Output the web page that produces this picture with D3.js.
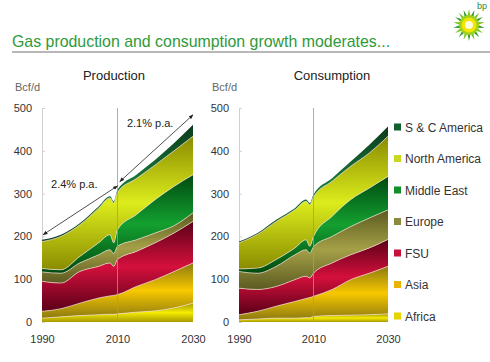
<!DOCTYPE html>
<html>

<head>
  <meta charset="utf-8" />
  <title>Gas production and consumption</title>
  <style>
    body {
      margin: 0;
      background: #fff;
      font-family: "Liberation Sans", Arial, sans-serif;
    }

    .axis text {
      font-size: 11px;
      fill: #333;
    }

    .legend text {
      font-size: 12px;
      fill: #333;
    }
  </style>
</head>

<body>
  <svg></svg>

  <script src="https://d3js.org/d3.v7.min.js"></script>
  <script>
    var width = 490,
      height = 362;

    // data, Bcf/d
    var years = [1990, 1995, 2000, 2005, 2008, 2009, 2010, 2015, 2020, 2025, 2030];
    var regions = ["Africa", "Asia", "FSU", "Europe", "Middle East", "North America", "S & C America"];
    var yTicks = [0, 100, 200, 300, 400, 500];
    var xTicks = [1990, 2010, 2030];

    var prodAfrica = [9, 12, 15, 17, 18, 18, 19, 23, 26, 33, 44];
    var prodAsia = [16, 19, 29, 39, 43, 44, 45, 60, 73, 85, 94];
    var prodFSU = [70, 60, 74, 74, 77, 68, 82, 82, 86, 90, 97];
    var prodEurope = [22, 23, 20, 27, 31, 30, 31, 27, 23, 17, 20];
    var prodMidEast = [8, 8, 15, 28, 35, 25, 39, 59, 78, 92, 89];
    var prodNAmerica = [63, 78, 74, 81, 86, 93, 87, 84, 81, 83, 90];
    var prodSCAmerica = [4, 4, 4, 4, 4, 4, 6, 9, 12, 18, 27];

    var consAfrica = [5, 7, 9, 9, 10, 10, 13, 15, 16, 17, 19];
    var consAsia = [12, 18, 28, 39, 45, 47, 47, 61, 83, 97, 111];
    var consFSU = [62, 51, 46, 51, 52, 46, 54, 62, 58, 59, 63];
    var consEurope = [39, 38, 47, 58, 62, 58, 62, 62, 66, 70, 69];
    var consMidEast = [6, 12, 16, 16, 23, 16, 24, 47, 63, 70, 78];
    var consNAmerica = [61, 79, 89, 89, 90, 97, 92, 82, 78, 82, 94];
    var consSCAmerica = [3, 3, 4, 4, 4, 4, 6, 7, 11, 19, 23];

    // dark / bright shade for each region
    var darkCol = ["#a89a00", "#8c7a10", "#5a0018", "#5c5a20", "#004a10", "#8a8c00", "#0c3a1a"];
    var brightCol = ["#f4ec00", "#f8c800", "#d4103c", "#a4a048", "#14a030", "#dcec1c", "#1a7a3a"];
    var legendCol = ["#e4d400", "#e8b400", "#c8103c", "#8c8a3c", "#138f2a", "#c8d820", "#0f5f2f"];

    var svg = d3.select("svg")
      .attr("width", width)
      .attr("height", height);

    var defs = svg.append("defs");
    regions.forEach(function (r, i) {
      var g = defs.append("linearGradient")
        .attr("id", "grad" + i)
        .attr("x1", 0).attr("y1", 0).attr("x2", 0).attr("y2", 1);
      g.append("stop").attr("offset", "0%").attr("stop-color", darkCol[i]);
      g.append("stop").attr("offset", "50%").attr("stop-color", brightCol[i]);
      g.append("stop").attr("offset", "100%").attr("stop-color", darkCol[i]);
    });

    // header
    svg.append("text")
      .attr("x", 12).attr("y", 47)
      .attr("font-size", 15.9)
      .attr("fill", "#2f9a3a")
      .text("Gas production and consumption growth moderates...");
    svg.append("line")
      .attr("x1", 12).attr("x2", 490)
      .attr("y1", 52).attr("y2", 52)
      .attr("stroke", "#a0a0a0").attr("stroke-width", 1.5);

    // bp helios logo
    var logo = svg.append("g").attr("transform", "translate(469,25)");
    for (var k = 0; k < 18; k++) {
      logo.append("path")
        .attr("d", "M-3.2,0 L0,-16 L3.2,0 Z")
        .attr("fill", k % 2 ? "#2e9b2e" : "#7cc21e")
        .attr("transform", "rotate(" + (k * 20) + ")");
    }
    logo.append("circle").attr("r", 10).attr("fill", "#9fd21c");
    logo.append("circle").attr("r", 7.5).attr("fill", "#f2e600");
    logo.append("circle").attr("r", 4).attr("fill", "#fffde0");
    svg.append("text")
      .attr("x", 477).attr("y", 9)
      .attr("font-size", 9).attr("fill", "#2e8b2e")
      .text("bp");

    var y = d3.scaleLinear().domain([0, 500]).range([322, 108]);

    function buildRows(cols) {
      return years.map(function (yr, i) {
        var row = { year: yr };
        regions.forEach(function (r, j) { row[r] = cols[j][i]; });
        return row;
      });
    }

    function drawPanel(x, rows, title, titleX) {
      var stacked = d3.stack().keys(regions)(rows);

      var area = d3.area()
        .curve(d3.curveMonotoneX)
        .x(function (d) { return x(d.data.year); })
        .y0(function (d) { return y(d[0]); })
        .y1(function (d) { return y(d[1]); });

      var edge = d3.line()
        .curve(d3.curveMonotoneX)
        .x(function (d) { return x(d.data.year); })
        .y(function (d) { return y(d[1]); });

      // axes first so bands sit on top
      var yAxis = svg.append("g")
        .attr("class", "axis")
        .attr("transform", "translate(" + x.range()[0] + ",0)")
        .call(d3.axisLeft(y).tickValues(yTicks).tickSizeInner(-3).tickSizeOuter(0).tickPadding(10));
      yAxis.select(".domain").attr("stroke", "#d0d0d0");
      yAxis.selectAll(".tick line").attr("stroke", "#d0d0d0");

      var xAxis = svg.append("g")
        .attr("class", "axis")
        .attr("transform", "translate(0," + y(0) + ")")
        .call(d3.axisBottom(x).tickValues(xTicks).tickFormat(d3.format("d")).tickSize(0).tickPadding(13));
      xAxis.select(".domain").remove();

      svg.append("g")
        .selectAll("path")
        .data(stacked)
        .enter()
        .append("path")
        .attr("d", area)
        .attr("fill", function (d, i) { return "url(#grad" + i + ")"; });

      svg.append("g")
        .selectAll("path")
        .data(stacked.slice(0, regions.length - 1))
        .enter()
        .append("path")
        .attr("d", edge)
        .attr("fill", "none")
        .attr("stroke", "#f6e0d4")
        .attr("stroke-opacity", 0.75)
        .attr("stroke-width", 0.9);

      // 2010 marker
      svg.append("line")
        .attr("x1", x(2010)).attr("x2", x(2010))
        .attr("y1", y(500)).attr("y2", y(0))
        .attr("stroke", "#9a9a9a").attr("stroke-opacity", 0.8).attr("stroke-width", 1);

      svg.append("text")
        .attr("x", titleX).attr("y", 80)
        .attr("text-anchor", "middle")
        .attr("font-size", 13).attr("fill", "#222")
        .text(title);
      svg.append("text")
        .attr("x", x.range()[0] - 27).attr("y", 91)
        .attr("font-size", 11).attr("fill", "#666")
        .text("Bcf/d");
    }

    var xL = d3.scaleLinear().domain([1990, 2030]).range([42, 193]);
    var xR = d3.scaleLinear().domain([1990, 2030]).range([239, 388]);

    drawPanel(xL, buildRows([prodAfrica, prodAsia, prodFSU, prodEurope, prodMidEast, prodNAmerica, prodSCAmerica]),
      "Production", 114);
    drawPanel(xR, buildRows([consAfrica, consAsia, consFSU, consEurope, consMidEast, consNAmerica, consSCAmerica]),
      "Consumption", 332);

    // growth arrows on production
    defs.append("marker")
      .attr("id", "head")
      .attr("viewBox", "0 0 10 10")
      .attr("refX", 9).attr("refY", 5)
      .attr("markerWidth", 6).attr("markerHeight", 6)
      .attr("orient", "auto-start-reverse")
      .append("path").attr("d", "M0,1 L10,5 L0,9 Z").attr("fill", "#222");

    var arrows = [
      { x0: 1990.3, v0: 204, x1: 2010, v1: 318, label: "2.4% p.a.", lx: 1992.4, lv: 314 },
      { x0: 2010.6, v0: 328, x1: 2030, v1: 484, label: "2.1% p.a.", lx: 2012.5, lv: 455 }
    ];
    arrows.forEach(function (a) {
      svg.append("line")
        .attr("x1", xL(a.x0)).attr("y1", y(a.v0))
        .attr("x2", xL(a.x1)).attr("y2", y(a.v1))
        .attr("stroke", "#222").attr("stroke-width", 0.8)
        .attr("marker-start", "url(#head)")
        .attr("marker-end", "url(#head)");
      svg.append("text")
        .attr("x", xL(a.lx)).attr("y", y(a.lv))
        .attr("font-size", 11).attr("fill", "#222")
        .text(a.label);
    });

    // legend
    var ly = d3.scalePoint().domain(regions.slice().reverse()).range([127, 316]);
    var legend = svg.append("g").attr("class", "legend");
    regions.forEach(function (r, i) {
      legend.append("rect")
        .attr("x", 394).attr("y", ly(r) - 3.5)
        .attr("width", 7).attr("height", 7)
        .attr("fill", legendCol[i]);
      legend.append("text")
        .attr("x", 405).attr("y", ly(r) + 4.5)
        .text(r);
    });
  </script>
</body>

</html>
